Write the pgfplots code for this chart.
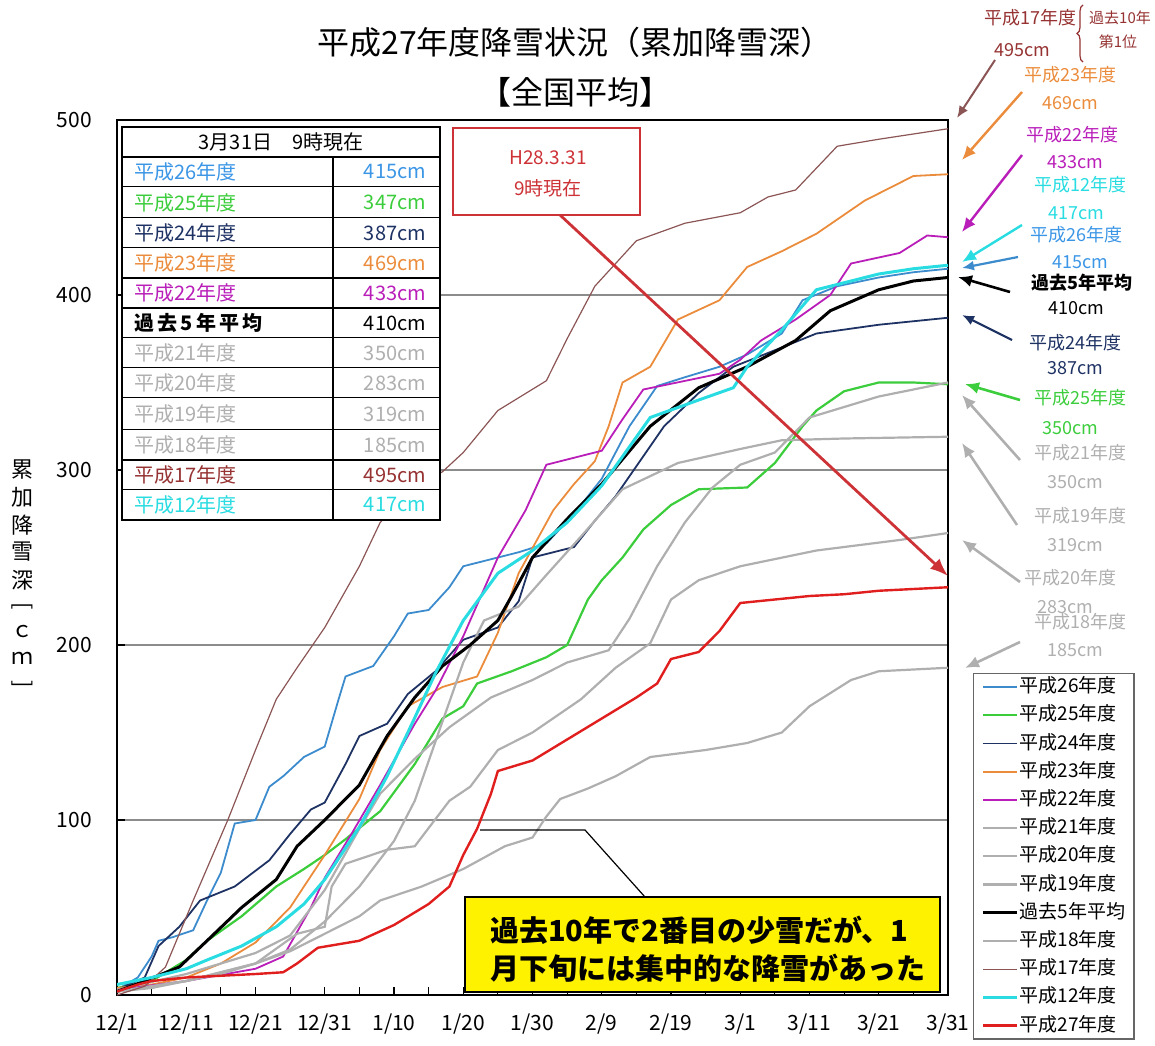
\documentclass[border=0pt]{standalone}
\usepackage{fontspec}
\setmainfont{Noto Sans CJK JP}
\usepackage{pgfplots}
\pgfplotsset{compat=1.18}
\usetikzlibrary{arrows.meta,decorations.pathreplacing}
\definecolor{c26}{RGB}{60,140,205}
\definecolor{c26t}{RGB}{60,150,230}
\definecolor{c25}{RGB}{60,205,60}
\definecolor{c24}{RGB}{30,50,100}
\definecolor{c23}{RGB}{235,140,60}
\definecolor{c22}{RGB}{185,30,185}
\definecolor{cgr}{RGB}{175,175,175}
\definecolor{c17}{RGB}{140,85,85}
\definecolor{c17t}{RGB}{150,50,50}
\definecolor{c12}{RGB}{40,220,225}
\definecolor{c27}{RGB}{225,30,30}
\definecolor{cbox}{RGB}{205,50,55}
\newcommand{\fs}[1]{\fontsize{#1}{#1}\selectfont}
\begin{document}
\begin{tikzpicture}
\path[use as bounding box] (0,0) rectangle (577.5pt,522.5pt);
\begin{axis}[
  at={(58.5pt,25pt)}, anchor=south west,
  scale only axis, width=415.5pt, height=437.5pt,
  xmin=0, xmax=120, ymin=0, ymax=500,
  xtick={0,10,...,120},
  xticklabels={12/1,12/11,12/21,12/31,1/10,1/20,1/30,2/9,2/19,3/1,3/11,3/21,3/31},
  minor xtick={5,15,...,115},
  ytick={0,100,...,500},
  ymajorgrids, grid style={black!45, line width=0.6pt},
  tick align=inside, tick pos=left,
  major tick length=4pt, minor tick length=4pt,
  axis line style={line width=1pt},
  tick style={black, line width=0.6pt},
  /pgf/number format/assume math mode=true,
  ticklabel style={font=\fs{10.5}},
  xticklabel style={yshift=-6pt},
  yticklabel style={xshift=-9pt},
  legend style={at={(1.030,0.368)}, anchor=north west, draw=black!60, line width=0.6pt,
     font=\fs{9.5}, row sep=4.6pt, inner sep=2pt, inner xsep=4pt,
     nodes={inner sep=0.5pt, text height=7pt, text depth=1.5pt}},
  legend cell align=left,
  legend image code/.code={\draw[#1] (0pt,0pt) -- (17pt,0pt);},
]
% 平成26年度
\addplot[c26, line width=0.9pt] coordinates {(0,3)(3,10)(5,22)(6,31)(8,33)(11,37)(13,54)(15,70)(17,98)(20,100)(22,119)(24,125)(27,136)(30,142)(32,169)(33,182)(37,188)(40,205)(42,218)(45,220)(48,233)(50,245)(54,249)(58,253)(62,258)(66,275)(70,295)(74,325)(78,348)(82,353)(87,359)(91,366)(96,378)(99,397)(104,405)(110,410)(115,413)(120,415)};
\addlegendentry{平成26年度}
% 平成25年度
\addplot[c25, line width=1.1pt] coordinates {(0,4)(5,8)(10,20)(13,31)(18,45)(23,62)(27,72)(30,80)(33,89)(38,105)(43,132)(47,158)(50,165)(52,178)(57,185)(62,193)(65,200)(68,226)(70,237)(73,250)(76,266)(80,280)(84,289)(91,290)(95,304)(99,325)(101,334)(105,345)(110,350)(115,350)(120,349)};
\addlegendentry{平成25年度}
% 平成24年度
\addplot[c24, line width=0.9pt] coordinates {(0,3)(4,10)(6,28)(9,39)(12,54)(17,62)(22,77)(25,92)(28,106)(30,110)(33,132)(35,148)(39,155)(42,172)(46,185)(50,203)(55,210)(58,225)(60,250)(63,253)(66,256)(69,271)(72,285)(79,325)(84,344)(89,359)(96,370)(101,378)(110,383)(120,387)};
\addlegendentry{平成24年度}
% 平成23年度
\addplot[c23, line width=0.9pt] coordinates {(0,4)(5,6)(10,10)(15,18)(20,30)(25,50)(30,80)(35,112)(38,140)(42,165)(47,176)(52,182)(55,207)(58,241)(63,277)(66,292)(69,305)(71,325)(73,350)(77,359)(81,386)(87,397)(91,416)(96,425)(101,435)(108,454)(115,468)(120,469)};
\addlegendentry{平成23年度}
% 平成22年度
\addplot[c22, line width=0.9pt] coordinates {(0,3)(10,8)(20,15)(24,22)(28,50)(30,67)(34,93)(38,120)(43,155)(46,174)(50,205)(55,250)(59,277)(62,303)(70,311)(73,329)(76,346)(87,355)(90,363)(93,374)(98,386)(103,400)(106,418)(113,424)(117,434)(120,433)};
\addlegendentry{平成22年度}
% 平成21年度
\addplot[cgr, line width=1.1pt] coordinates {(0,3)(10,12)(15,18)(20,24)(25,34)(30,60)(35,95)(38,115)(43,135)(48,153)(54,170)(60,180)(65,190)(71,197)(74,215)(78,245)(82,270)(86,290)(90,303)(95,310)(100,330)(105,336)(110,342)(115,346)(120,350)};
\addlegendentry{平成21年度}
% 平成20年度
\addplot[cgr, line width=1.1pt] coordinates {(0,2)(10,8)(20,18)(26,35)(30,39)(31,62)(33,75)(39,83)(43,85)(48,111)(51,119)(55,140)(60,150)(67,169)(72,187)(77,201)(80,226)(84,237)(90,245)(101,254)(113,260)(120,264)};
\addlegendentry{平成20年度}
% 平成19年度
\addplot[cgr, line width=1.1pt] coordinates {(0,2)(10,8)(20,18)(25,26)(30,42)(35,62)(40,88)(43,111)(46,145)(50,190)(53,214)(58,222)(62,240)(67,262)(73,289)(81,304)(90,312)(96,317)(105,318)(120,319)};
\addlegendentry{平成19年度}
% 過去5年平均
\addplot[black, line width=1.5pt] coordinates {(0,2)(4,8)(9,16)(13,31)(18,50)(23,66)(26,85)(30,100)(35,120)(39,148)(43,170)(47,188)(51,200)(55,214)(57,228)(60,250)(65,272)(70,292)(77,325)(84,347)(91,359)(98,374)(103,391)(110,403)(115,408)(120,410)};
\addlegendentry{過去5年平均}
% 平成18年度
\addplot[cgr, line width=1.1pt] coordinates {(0,2)(5,4)(10,8)(15,12)(20,18)(25,25)(30,35)(35,45)(38,54)(44,62)(50,72)(56,85)(60,90)(62,102)(64,112)(68,118)(72,125)(77,136)(85,140)(91,144)(96,150)(100,165)(106,180)(110,185)(120,187)};
\addlegendentry{平成18年度}
% 平成17年度
\addplot[c17, line width=0.6pt] coordinates {(0,0)(4,5)(7,16)(9,35)(11,54)(16,100)(20,140)(23,169)(26,187)(30,210)(35,245)(38,270)(43,290)(47,299)(50,310)(55,334)(62,351)(65,375)(69,405)(75,431)(82,441)(90,447)(94,456)(98,460)(104,485)(110,489)(120,495)};
\addlegendentry{平成17年度}
% 平成12年度
\addplot[c12, line width=1.5pt] coordinates {(0,6)(5,10)(10,15)(13,20)(18,28)(23,39)(27,52)(30,66)(35,96)(39,125)(42,150)(46,184)(50,214)(55,241)(60,254)(65,270)(70,291)(77,330)(84,340)(89,347)(91,359)(96,380)(101,403)(110,412)(115,415)(120,417)};
\addlegendentry{平成12年度}
% 平成27年度
\addplot[c27, line width=1.2pt] coordinates {(0,2)(3,6)(5,8)(10,10)(15,11)(20,12)(24,13)(26,18)(29,27)(35,31)(40,40)(45,52)(48,62)(50,80)(52,95)(54,115)(55,128)(60,134)(65,146)(70,158)(75,170)(78,178)(80,192)(84,196)(87,208)(90,224)(95,226)(100,228)(105,229)(110,231)(115,232)(120,233)};
\addlegendentry{平成27年度}
\end{axis}
\begin{scope}[shift={(0pt,522.5pt)}, x=0.5pt, y=-0.5pt]
% titles
\node[font=\fs{16}] at (575,42) {平成27年度降雪状況（累加降雪深）};
\node[font=\fs{16}] at (575,92) {【全国平均】};
% y label
\begin{scope}[every node/.style={font=\fs{11}}]
\node at (22,470) {累};
\node at (22,497) {加};
\node at (22,525) {降};
\node at (22,552) {雪};
\node at (22,580) {深};
\node[rotate=-90] at (22,606) {[};
\node at (22,632) {ｃ};
\node at (22,658) {ｍ};
\node[rotate=-90] at (22,684) {]};
\end{scope}
% table
\fill[white] (122,127) rectangle (440,520);
\foreach \yy in {187,218,248,338,368,398,430,490} \draw[line width=0.5pt] (122,\yy) -- (440,\yy);
\foreach \yy in {157,278,308,460} \draw[line width=1.2pt] (122,\yy) -- (440,\yy);
\draw[line width=1.2pt] (333,157) -- (333,520);
\draw[line width=1.2pt] (122,127) rectangle (440,520);
\begin{scope}[every node/.style={font=\fs{10}}]
\node at (281,142) {3月31日\quad 9時現在};
\node[anchor=west, text=c26t] at (127,172) {平成26年度};
\node[anchor=east, text=c26t] at (433,172) {415cm};
\node[anchor=west, text=c25] at (127,202.5) {平成25年度};
\node[anchor=east, text=c25] at (433,202.5) {347cm};
\node[anchor=west, text=c24] at (127,233) {平成24年度};
\node[anchor=east, text=c24] at (433,233) {387cm};
\node[anchor=west, text=c23] at (127,263) {平成23年度};
\node[anchor=east, text=c23] at (433,263) {469cm};
\node[anchor=west, text=c22] at (127,293) {平成22年度};
\node[anchor=east, text=c22] at (433,293) {433cm};
\node[anchor=west] at (127,323) {\bfseries 過\,去\,5\,年\,平\,均};
\node[anchor=east] at (433,323) {410cm};
\node[anchor=west, text=cgr] at (127,353) {平成21年度};
\node[anchor=east, text=cgr] at (433,353) {350cm};
\node[anchor=west, text=cgr] at (127,383) {平成20年度};
\node[anchor=east, text=cgr] at (433,383) {283cm};
\node[anchor=west, text=cgr] at (127,414) {平成19年度};
\node[anchor=east, text=cgr] at (433,414) {319cm};
\node[anchor=west, text=cgr] at (127,445) {平成18年度};
\node[anchor=east, text=cgr] at (433,445) {185cm};
\node[anchor=west, text=c17t] at (127,475) {平成17年度};
\node[anchor=east, text=c17t] at (433,475) {495cm};
\node[anchor=west, text=c12] at (127,505) {平成12年度};
\node[anchor=east, text=c12] at (433,505) {417cm};
\end{scope}
% red box and arrow
\draw[cbox, line width=1.3pt, fill=white] (453,128) rectangle (640,215);
\node[text=cbox, font=\fs{9.5}] at (548,158) {H28.3.31};
\node[text=cbox, font=\fs{9.5}] at (548,188) {9時現在};
\draw[cbox, line width=1.4pt, -{Latex[length=9pt,width=7pt]}] (560,215) -- (948,576);
% callout
\draw[black, line width=0.6pt] (480,830) -- (585,830) -- (645,897);
\draw[black, line width=1pt, fill=yellow] (465,897) rectangle (940,992);
\node[anchor=west, font=\fs{14.5}\bfseries] at (483,930) {過去10年で2番目の少雪だが、1};
\node[anchor=west, font=\fs{14.5}\bfseries] at (483,968) {月下旬には集中的な降雪があった};
% right annotations
\begin{scope}[every node/.style={font=\fs{9}}]
\node[text=c17t] at (1030,18) {平成17年度};
\node[text=c17t] at (1022,50) {495cm};
\draw[c17t, line width=0.6pt, decorate, decoration={brace, amplitude=3pt}] (1083,62) -- (1083,5);
\node[text=c17t, font=\fs{7.5}] at (1120,18) {過去10年};
\node[text=c17t, font=\fs{7.5}] at (1118,42) {第1位};
\draw[c17, line width=1pt, -{Latex[length=6pt,width=5pt]}] (995,60) -- (957,118);
\node[text=c23] at (1070,75) {平成23年度};
\node[text=c23] at (1070,103) {469cm};
\draw[c23, line width=1.2pt, -{Latex[length=7pt,width=6pt]}] (1022,92) -- (962,160);
\node[text=c22] at (1072,135) {平成22年度};
\node[text=c22] at (1075,162) {433cm};
\draw[c22, line width=1.2pt, -{Latex[length=7pt,width=6pt]}] (1022,155) -- (962,232);
\node[text=c12] at (1080,185) {平成12年度};
\node[text=c12] at (1076,213) {417cm};
\draw[c12, line width=1.2pt, -{Latex[length=7pt,width=6pt]}] (1022,225) -- (962,262);
\node[text=c26t] at (1076,235) {平成26年度};
\node[text=c26t] at (1080,262) {415cm};
\draw[c26, line width=1.1pt, -{Latex[length=6pt,width=5pt]}] (1018,257) -- (962,268);
\node[font=\fs{9}\bfseries] at (1082,283) {過去5年平均};
\node at (1076,308) {410cm};
\draw[black, line width=1.3pt, -{Latex[length=7pt,width=6pt]}] (1010,292) -- (958,277);
\node[text=c24] at (1075,343) {平成24年度};
\node[text=c24] at (1075,368) {387cm};
\draw[c24, line width=1.1pt, -{Latex[length=6pt,width=5pt]}] (1012,340) -- (962,315);
\node[text=c25] at (1080,398) {平成25年度};
\node[text=c25] at (1070,428) {350cm};
\draw[c25, line width=1.3pt, -{Latex[length=7pt,width=6pt]}] (1020,400) -- (965,384);
\node[text=cgr] at (1080,453) {平成21年度};
\node[text=cgr] at (1075,482) {350cm};
\draw[cgr, line width=1.3pt, -{Latex[length=7pt,width=6pt]}] (1020,460) -- (962,395);
\node[text=cgr] at (1080,516) {平成19年度};
\node[text=cgr] at (1075,545) {319cm};
\draw[cgr, line width=1.3pt, -{Latex[length=7pt,width=6pt]}] (1017,525) -- (962,443);
\node[text=cgr] at (1070,578) {平成20年度};
\node[text=cgr] at (1065,607) {283cm};
\draw[cgr, line width=1.3pt, -{Latex[length=7pt,width=6pt]}] (1020,582) -- (962,540);
\node[text=cgr] at (1080,622) {平成18年度};
\node[text=cgr] at (1075,650) {185cm};
\draw[cgr, line width=1.3pt, -{Latex[length=7pt,width=6pt]}] (1020,642) -- (965,668);
\end{scope}
\end{scope}
\end{tikzpicture}
\end{document}
